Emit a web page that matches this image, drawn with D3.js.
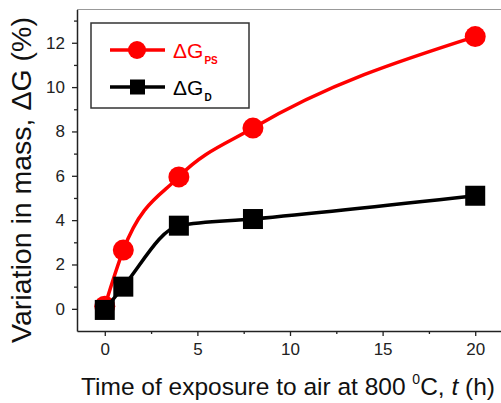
<!DOCTYPE html>
<html>
<head>
<meta charset="utf-8">
<script src="https://cdn.jsdelivr.net/npm/d3@7"></script>
<style>
  body { margin: 0; background: #fff; }
  svg { display: block; font-family: "Liberation Sans", Arial, sans-serif; }
</style>
</head>
<body>
<div id="chart"></div>
<script>
// data
const hours = [0, 1, 4, 8, 20];
const gainPS = [0.12, 2.65, 5.95, 8.15, 12.28];
const gainD = [-0.05, 1.0, 3.75, 4.05, 5.1];
const xTicks = [0, 5, 10, 15, 20];
const yTicks = [0, 2, 4, 6, 8, 10, 12];

const width = 501, height = 403;
const margin = {left: 77, top: 9.5, right: -2, bottom: 72};

const svg = d3.select("#chart").append("svg")
  .attr("width", width)
  .attr("height", height);

const x = d3.scaleLinear().domain([-1.5, 21.5]).range([margin.left, width - margin.right]);
const y = d3.scaleLinear().domain([-1, 13.5]).range([height - margin.bottom, margin.top]);

// top frame line (light)
svg.append("line")
  .attr("x1", margin.left).attr("x2", width)
  .attr("y1", margin.top).attr("y2", margin.top)
  .attr("stroke", "#999").attr("stroke-width", 1.2);

// x axis
svg.append("g")
  .attr("transform", `translate(0,${height - margin.bottom})`)
  .call(d3.axisBottom(x).tickValues(xTicks).tickSize(5).tickPadding(7).tickSizeOuter(0));
svg.append("g")
  .attr("transform", `translate(0,${height - margin.bottom})`)
  .call(d3.axisBottom(x).tickValues([2.5, 7.5, 12.5, 17.5]).tickSize(3).tickFormat("").tickSizeOuter(0))
  .call(g => g.select(".domain").remove());

// y axis
svg.append("g")
  .attr("transform", `translate(${margin.left},0)`)
  .call(d3.axisLeft(y).tickValues(yTicks).tickSize(5).tickPadding(7).tickSizeOuter(0));
svg.append("g")
  .attr("transform", `translate(${margin.left},0)`)
  .call(d3.axisLeft(y).tickValues([1, 3, 5, 7, 9, 11, 13]).tickSize(3).tickFormat("").tickSizeOuter(0))
  .call(g => g.select(".domain").remove());

svg.selectAll(".domain").attr("stroke", "#222").attr("stroke-width", 1.5);
svg.selectAll(".tick line").attr("stroke", "#222").attr("stroke-width", 1.3);
svg.selectAll(".tick text").attr("font-size", 17).attr("fill", "#222")
  .attr("font-family", "Liberation Sans, Arial, sans-serif");

// axis titles
svg.append("text")
  .attr("x", (margin.left + width) / 2 - 1)
  .attr("y", 395)
  .attr("text-anchor", "middle")
  .attr("font-size", 24.5)
  .attr("fill", "#111")
  .call(t => {
    t.append("tspan").text("Time of exposure to air at 800 ");
    t.append("tspan").attr("font-size", 14).attr("dy", -11).text("0");
    t.append("tspan").attr("dy", 11).text("C, ");
    t.append("tspan").attr("font-style", "italic").text("t");
    t.append("tspan").text(" (h)");
  });

svg.append("text")
  .attr("transform", `translate(31,${180}) rotate(-90)`)
  .attr("text-anchor", "middle")
  .attr("font-size", 28.5)
  .attr("fill", "#111")
  .text("Variation in mass, \u0394G (%)");

// series
const line = d3.line().x(d => x(d[0])).y(d => y(d[1])).curve(d3.curveMonotoneX);
const ps = hours.map((h, i) => [h, gainPS[i]]);
const dd = hours.map((h, i) => [h, gainD[i]]);

svg.append("path").datum(ps)
  .attr("d", line).attr("fill", "none").attr("stroke", "#f00").attr("stroke-width", 3.5);
svg.append("g").selectAll("circle").data(ps).join("circle")
  .attr("cx", d => x(d[0])).attr("cy", d => y(d[1])).attr("r", 10.5).attr("fill", "#f00");

svg.append("path").datum(dd)
  .attr("d", line).attr("fill", "none").attr("stroke", "#000").attr("stroke-width", 3.5);
const sq = 20;
svg.append("g").selectAll("rect").data(dd).join("rect")
  .attr("x", d => x(d[0]) - sq / 2).attr("y", d => y(d[1]) - sq / 2)
  .attr("width", sq).attr("height", sq).attr("fill", "#000");

// legend
const lg = svg.append("g");
lg.append("rect")
  .attr("x", 91).attr("y", 23).attr("width", 158).attr("height", 85)
  .attr("fill", "#fff").attr("stroke", "#333").attr("stroke-width", 1.5);

const legendItems = [
  {label: "PS", color: "#f00", shape: "circle", y: 50},
  {label: "D", color: "#000", shape: "square", y: 87}
];
legendItems.forEach(it => {
  lg.append("line").attr("x1", 110).attr("x2", 165).attr("y1", it.y).attr("y2", it.y)
    .attr("stroke", it.color).attr("stroke-width", 3.5);
  if (it.shape === "circle") {
    lg.append("circle").attr("cx", 137).attr("cy", it.y).attr("r", 9).attr("fill", it.color);
  } else {
    lg.append("rect").attr("x", 130).attr("y", it.y - 7.5).attr("width", 15).attr("height", 15).attr("fill", it.color);
  }
  const t = lg.append("text").attr("x", 173).attr("y", it.y + 7.5)
    .attr("font-size", 21).attr("fill", it.color);
  t.append("tspan").text("\u0394G");
  t.append("tspan").attr("font-size", 10).attr("font-weight", "bold").attr("dy", 6).attr("dx", 1).text(it.label);
});
</script>
</body>
</html>
